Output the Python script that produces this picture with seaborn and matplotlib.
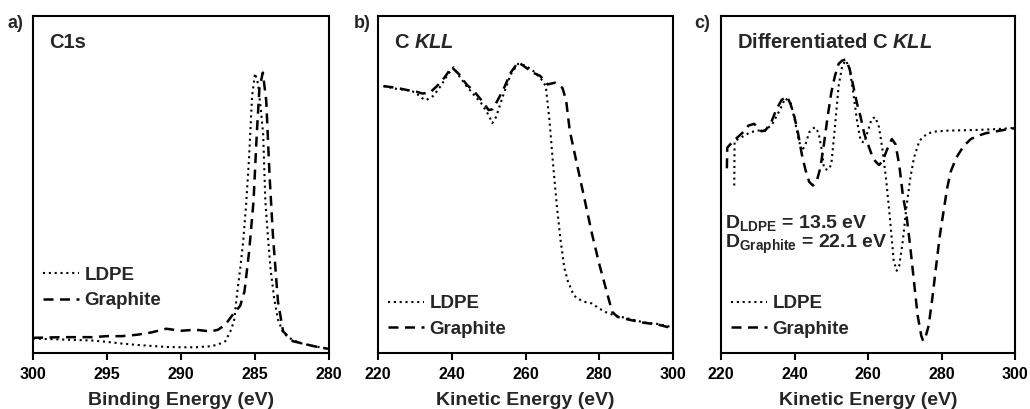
import matplotlib
matplotlib.use("Agg")
import matplotlib.pyplot as plt
import seaborn as sns
import pandas as pd

# ---------------- data (arbitrary intensity units, 0-100) ----------------
# Panel a: C1s
a_ldpe_x = [300, 298, 296, 295, 294, 293, 292, 291, 290, 289, 288, 287.5, 287, 286.6, 286.4,
            286.2, 286.0, 285.8, 285.6, 285.4, 285.2, 285.0, 284.8, 284.6, 284.45, 284.3, 284.1,
            283.95, 283.7, 283.45, 283.1, 282.7, 282, 281, 280]
a_ldpe_y = [4.3, 4.0, 3.7, 3.3, 2.8, 2.4, 2.1, 1.8, 1.7, 1.7, 2.0, 2.5, 3.5, 7, 10,
            18, 25, 33, 44, 58, 76, 83, 80, 72, 65, 45, 33,
            25, 16, 10, 6, 4.5, 3, 2, 1.2]
a_gra_x = [300, 298, 296, 295, 294, 293, 292, 291, 290, 289, 288, 287.5, 287, 286.5, 286.0,
           285.71, 285.4, 285.1, 284.88, 284.7, 284.47, 284.24, 284.02, 283.79, 283.45, 283.1,
           282.44, 281, 280]
a_gra_y = [4.5, 4.7, 4.7, 5.0, 5.0, 5.4, 6.1, 7.2, 6.6, 6.9, 6.4, 6.9, 8.4, 11.4, 14,
           18.3, 30, 45, 65, 78.7, 83.2, 74.8, 53, 35, 15.3, 6.4,
           3.5, 2, 1.2]

# Panel b: C KLL
b_ldpe_x = [221.5, 225, 228, 230, 232, 233, 235, 237, 239, 240.5, 242, 244, 246, 248, 250, 251,
            252, 254, 256, 258, 260, 262, 264, 265.5, 266.5, 267.5, 268.5, 269.5, 270.5, 271.5,
            273, 274, 276, 278, 280, 282, 284, 288, 292, 296, 300]
b_ldpe_y = [79.2, 78.4, 78, 77.4, 75.6, 75, 76.3, 79.2, 82.7, 84.8, 82.2, 79.2, 76.6, 74.1, 70.6, 68.2,
            70, 76.6, 82.7, 85.8, 85.3, 83.8, 81.7, 79.2, 69, 55.8, 43.7, 33.5, 25.4, 21.3,
            17.3, 16.2, 15.2, 14.7, 13.2, 12, 11.2, 10.2, 9.1, 8.6, 7.6]
b_gra_x = [221.5, 225, 228, 230, 232, 234, 236, 238, 240, 242, 244, 246, 248, 250, 251, 252,
           254, 256, 258, 260, 262, 264, 266, 268, 270, 271, 272, 274, 276, 278, 280, 282,
           283.5, 285, 288, 292, 296, 300]
b_gra_y = [79.2, 78.7, 78, 77.7, 77, 77.2, 79.2, 81.7, 84.8, 82.7, 79.7, 77.7, 75.1, 72.1, 72.3, 74.1,
           78.2, 83.2, 86.3, 84.8, 83.2, 82.2, 79.7, 80.2, 78.7, 75.1, 66, 55.8, 45.7, 35.5, 26.4, 18.3,
           12.2, 10.7, 9.9, 9.0, 8.4, 7.3]

# Panel c: differentiated C KLL
c_ldpe_x = [223.6, 223.7, 228, 230, 232, 234, 236, 237.5, 239, 240, 241, 242, 243, 244, 245.5,
            246.5, 247.5, 248, 249, 250, 251, 252, 253, 254, 255, 256, 257, 258, 259, 260, 261,
            262, 263, 264, 265, 266, 267, 267.8, 268.5, 269.5, 270.5, 271.5, 272.5, 274, 276,
            278, 282, 290, 296, 300]
c_ldpe_y = [49.7, 62.9, 65.5, 66, 66, 68, 72.1, 75.6, 74.1, 69.5, 64, 59.9, 61.9, 65.5, 67,
            65.5, 59.9, 54.8, 54.3, 55.8, 67, 79.2, 85.3, 86.8, 84.3, 77.2, 69, 62.9, 62.4, 66, 69.5,
            70, 67, 59.9, 50.8, 39.6, 27.4, 24.4, 25.9, 33.5, 43.7, 51.8, 57.9, 63, 65,
            65.7, 66, 66.2, 66.5, 66.8]
c_gra_x = [221.6, 221.7, 222.5, 224, 226, 227.5, 229, 230, 231, 232, 233.5, 235, 236.5, 238, 239,
           240, 241, 242, 243, 244, 245, 246, 247, 248, 249, 250, 251, 252, 253, 254, 255, 256,
           257, 258, 259, 260, 261, 262, 263, 264, 265, 266, 266.5, 267.5, 268.5, 269.5, 270.5,
           271.5, 272.5, 273.5, 274.5, 275, 275.5, 276.5, 277.5, 278.5, 279.5, 280.5, 281.5,
           282.5, 284, 286, 288, 290, 292, 295, 298, 300]
c_gra_y = [54.8, 60.9, 61.9, 63.5, 65.5, 67.5, 68, 67, 65.8, 66, 68, 72.1, 75.1, 76.1, 73.6,
           70, 65, 58.9, 54.3, 50.8, 49.7, 50.8, 54.8, 61.9, 70, 77.2, 82.2, 85.8, 86.8, 87.1, 84.3, 79.2,
           74.1, 70, 65, 61.9, 58.9, 56.9, 55.8, 56.9, 59.9, 62.4, 63.5, 61.9, 55.8, 46.7, 40.6,
           31.5, 21.3, 11.2, 5.1, 3.6, 4.1, 8.1, 16.2, 25.4, 34.5, 41.6, 48.7,
           53.8, 57.9, 61.4, 63.5, 64.5, 65.2, 65.8, 66.4, 66.7]

series_names = ["LDPE", "Graphite"]
a_ticks = [300, 295, 290, 285, 280]
kll_ticks = [220, 240, 260, 280, 300]
panel_labels = ["a)", "b)", "c)"]
panel_titles = ["C1s", r"C $\mathit{KLL}$", r"Differentiated C $\mathit{KLL}$"]
xlabels = ["Binding Energy (eV)", "Kinetic Energy (eV)", "Kinetic Energy (eV)"]
d_texts = [r"$\mathbf{D_{LDPE}}$ = 13.5 eV", r"$\mathbf{D_{Graphite}}$ = 22.1 eV"]

# ---------------- style ----------------
sns.set_style("white")
plt.rcParams["font.family"] = ["Liberation Sans", "DejaVu Sans"]
plt.rcParams["font.weight"] = "bold"
plt.rcParams["mathtext.fontset"] = "custom"
plt.rcParams["mathtext.rm"] = "Liberation Sans:bold"
plt.rcParams["mathtext.bf"] = "Liberation Sans:bold"
plt.rcParams["mathtext.it"] = "Liberation Sans:bold:italic"

W, H = 1030, 409
fig = plt.figure(figsize=(W / 100, H / 100), dpi=100)

ax_px = [(33, 329), (378, 673), (721, 1015)]
top_px, bot_px = 16, 353

dot_style = (0, (1.0, 1.8))
dash_style = (0, (4.0, 2.6))

data = [
    (a_ldpe_x, a_ldpe_y, a_gra_x, a_gra_y),
    (b_ldpe_x, b_ldpe_y, b_gra_x, b_gra_y),
    (c_ldpe_x, c_ldpe_y, c_gra_x, c_gra_y),
]
legend_anchor = [(0.035, 0.13), (0.035, 0.045), (0.035, 0.045)]
label_x = [8, 354, 694]

for i, (l, r) in enumerate(ax_px):
    ax = fig.add_axes([l / W, (H - bot_px) / H, (r - l) / W, (bot_px - top_px) / H])
    lx, ly, gx, gy = data[i]
    dfl = pd.DataFrame({"x": lx, "y": ly})
    dfg = pd.DataFrame({"x": gx, "y": gy})
    sns.lineplot(data=dfl, x="x", y="y", ax=ax, color="black", linewidth=1.5,
                 linestyle=dot_style, estimator=None, sort=False, label=series_names[0])
    sns.lineplot(data=dfg, x="x", y="y", ax=ax, color="black", linewidth=1.8,
                 linestyle=dash_style, estimator=None, sort=False, label=series_names[1])
    if i == 0:
        ax.set_xlim(300, 280)
        ax.set_xticks(a_ticks)
    else:
        ax.set_xlim(220, 300)
        ax.set_xticks(kll_ticks)
    ax.set_ylim(0, 100)
    ax.set_yticks([])
    ax.set_ylabel("")
    ax.set_xlabel(xlabels[i], fontsize=14, fontweight="bold", labelpad=7)
    for s in ax.spines.values():
        s.set_visible(True)
        s.set_color("black")
        s.set_linewidth(1.5)
    ax.tick_params(axis="x", direction="out", length=5, width=1.5, pad=5,
                   labelsize=11.5, colors="black", bottom=True)
    for t in ax.get_xticklabels():
        t.set_fontweight("bold")
    ax.text(0.055, 0.905, panel_titles[i], transform=ax.transAxes, fontsize=14.5,
            fontweight="bold", va="baseline", ha="left")
    leg = ax.legend(loc="lower left", bbox_to_anchor=legend_anchor[i], frameon=False,
                    fontsize=13.5, handlelength=1.9, handletextpad=0.3,
                    labelspacing=0.45, borderpad=0, borderaxespad=0)
    for t in leg.get_texts():
        t.set_fontweight("bold")
    fig.text(label_x[i] / W, 1 - 28 / H, panel_labels[i], fontsize=13,
             fontweight="bold", va="baseline", ha="left")
    if i == 2:
        ax.text(0.012, 0.371, d_texts[0], transform=ax.transAxes, fontsize=14,
                fontweight="bold", va="baseline", ha="left")
        ax.text(0.012, 0.312, d_texts[1], transform=ax.transAxes, fontsize=14,
                fontweight="bold", va="baseline", ha="left")

fig.savefig("out.png", dpi=100)
